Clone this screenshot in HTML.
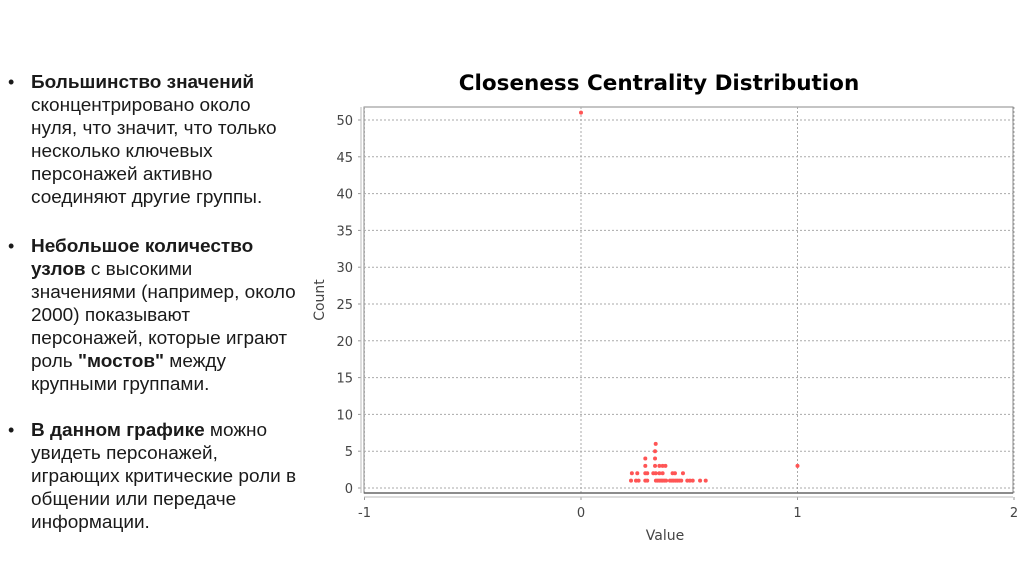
<!DOCTYPE html>
<html><head><meta charset="utf-8">
<style>
body{margin:0;width:1024px;height:574px;background:#fff;overflow:hidden;position:relative;font-family:"Liberation Sans",Arial,sans-serif;}
#txt{position:absolute;left:0;top:71px;width:320px;font-size:18px;line-height:23px;color:#1a1a1a;white-space:nowrap;}
.item{position:relative;padding-left:31px;margin-bottom:23px;}
#b1{margin-bottom:26px;}
.item::before{content:"•";position:absolute;left:8px;top:0;}
.item span.in{display:inline-block;transform:scaleX(1.055);transform-origin:0 0;}
svg{position:absolute;left:0;top:0;}
</style></head>
<body>
<div id="txt">
<div class="item" id="b1"><span class="in"><b>Большинство значений</b><br>сконцентрировано около<br>нуля, что значит, что только<br>несколько ключевых<br>персонажей активно<br>соединяют другие группы.</span></div>
<div class="item"><span class="in"><b>Небольшое количество</b><br><b>узлов</b> с высокими<br>значениями (например, около<br>2000) показывают<br>персонажей, которые играют<br>роль <b>"мостов"</b> между<br>крупными группами.</span></div>
<div class="item"><span class="in"><b>В данном графике</b> можно<br>увидеть персонажей,<br>играющих критические роли в<br>общении или передаче<br>информации.</span></div>
</div>
<svg id="chart" width="1024" height="574">
<text x="659" y="90" text-anchor="middle" font-family="DejaVu Sans, sans-serif" font-weight="bold" font-size="21.5" fill="#000">Closeness Centrality Distribution</text>
<g id="grid"></g><g id="axes"></g><g id="pts"></g>
<text x="665" y="540" text-anchor="middle" font-family="DejaVu Sans, sans-serif" font-size="14" fill="#444">Value</text>
<text transform="translate(324,300) rotate(-90)" text-anchor="middle" font-family="DejaVu Sans, sans-serif" font-size="14" fill="#444">Count</text>
</svg>
<script>
const xTicks=[-1,0,1,2];
const yTicks=[0,5,10,15,20,25,30,35,40,45,50];
const ptValues=[0,1,
0.231,0.254,0.266,0.297,0.306,0.346,0.354,0.362,0.370,0.377,0.385,0.393,0.411,0.420,0.428,0.437,0.445,0.454,0.463,0.491,0.503,0.516,0.550,0.576,
0.235,0.260,0.297,0.306,0.334,0.345,0.362,0.377,0.423,0.434,0.471,
0.297,0.342,0.362,0.377,0.390,
0.297,0.342,0.342,0.345];
const ptCounts=[51,3,
1,1,1,1,1,1,1,1,1,1,1,1,1,1,1,1,1,1,1,1,1,1,1,1,
2,2,2,2,2,2,2,2,2,2,2,
3,3,3,3,3,
4,4,5,6];
const L=364,R=1013,T=107,B=493;
const sx=v=>581+(v-0)*216.5;
const sy=c=>488-c*7.36;
const NS="http://www.w3.org/2000/svg";
function mk(tag,attrs,parent){const e=document.createElementNS(NS,tag);for(const k in attrs)e.setAttribute(k,attrs[k]);parent.appendChild(e);return e;}
const grid=document.getElementById('grid'),axes=document.getElementById('axes'),pts=document.getElementById('pts');
const box=mk('rect',{x:L,y:T,width:R-L,height:B-T,fill:'#fff',stroke:'#888','stroke-width':1},grid);


yTicks.forEach(t=>{const y=sy(t);
 const g=mk('line',{x1:L,x2:R,y1:y,y2:y,stroke:'#aaa','stroke-dasharray':'2,2'},grid);
 
 
 mk('line',{x1:358,x2:361,y1:y,y2:y,stroke:'#999'},axes);
 const tx=mk('text',{x:353,y:y+5,'text-anchor':'end','font-family':'DejaVu Sans, sans-serif','font-size':13,fill:'#444'},axes);
 tx.textContent=t;
 
 });
xTicks.forEach(t=>{const x=sx(t);
 const g=mk('line',{x1:x,x2:x,y1:T,y2:B,stroke:'#aaa','stroke-dasharray':'2,2'},grid);
 
 
 mk('line',{x1:x,x2:x,y1:497,y2:500,stroke:'#999'},axes);
 const tx=mk('text',{x:x,y:517,'text-anchor':'middle','font-family':'DejaVu Sans, sans-serif','font-size':13,fill:'#444'},axes);
 tx.textContent=t;
 
 });
mk('line',{x1:361,x2:361,y1:T,y2:B,stroke:'#bbb'},axes);
mk('line',{x1:L,x2:R,y1:497,y2:497,stroke:'#bbb'},axes);
mk('line',{x1:L,x2:R,y1:B,y2:B,stroke:'#666','stroke-width':1.5},axes);
ptValues.forEach((v,i)=>{
 const c=mk('circle',{cx:sx(v),cy:sy(ptCounts[i]),r:2,fill:'#f55'},pts);
 
 });
</script>
</body></html>
